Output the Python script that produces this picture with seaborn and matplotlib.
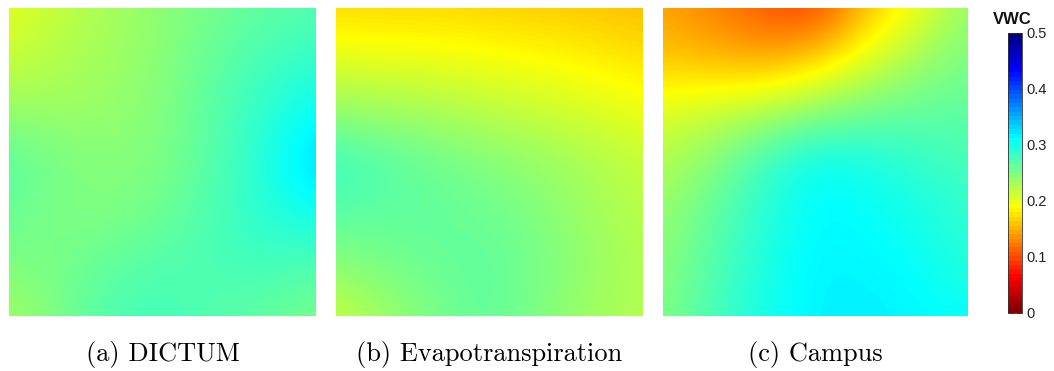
import numpy as np
import matplotlib
matplotlib.use("Agg")
import matplotlib.pyplot as plt
from matplotlib.colors import ListedColormap
import seaborn as sns

# ---- data (VWC, 7x7 sample points, edges included, top row first) ----
dictum_vwc = [
    [0.200, 0.218, 0.231, 0.244, 0.256, 0.266, 0.271],
    [0.215, 0.226, 0.234, 0.246, 0.264, 0.279, 0.288],
    [0.239, 0.236, 0.239, 0.249, 0.269, 0.290, 0.310],
    [0.269, 0.254, 0.246, 0.251, 0.271, 0.295, 0.335],
    [0.261, 0.251, 0.249, 0.259, 0.276, 0.293, 0.305],
    [0.251, 0.254, 0.266, 0.273, 0.276, 0.280, 0.273],
    [0.231, 0.254, 0.276, 0.280, 0.271, 0.264, 0.254],
]
evapo_vwc = [
    [0.168, 0.168, 0.168, 0.165, 0.163, 0.160, 0.155],
    [0.203, 0.200, 0.198, 0.193, 0.188, 0.182, 0.175],
    [0.239, 0.234, 0.229, 0.221, 0.214, 0.207, 0.195],
    [0.286, 0.271, 0.259, 0.249, 0.239, 0.229, 0.217],
    [0.269, 0.266, 0.264, 0.259, 0.249, 0.234, 0.221],
    [0.244, 0.254, 0.261, 0.266, 0.254, 0.239, 0.226],
    [0.214, 0.236, 0.254, 0.266, 0.249, 0.234, 0.224],
]
campus_vwc = [
    [0.143, 0.126, 0.105, 0.090, 0.156, 0.195, 0.241],
    [0.160, 0.153, 0.146, 0.165, 0.203, 0.234, 0.254],
    [0.205, 0.214, 0.226, 0.244, 0.256, 0.264, 0.266],
    [0.224, 0.249, 0.283, 0.310, 0.303, 0.288, 0.278],
    [0.239, 0.266, 0.293, 0.315, 0.310, 0.303, 0.288],
    [0.244, 0.273, 0.298, 0.318, 0.315, 0.310, 0.293],
    [0.249, 0.278, 0.303, 0.318, 0.320, 0.315, 0.310],
]
captions = ["(a) DICTUM", "(b) Evapotranspiration", "(c) Campus"]
cbar_ticks = [0, 0.1, 0.2, 0.3, 0.4, 0.5]
cbar_ticklabels = ["0", "0.1", "0.2", "0.3", "0.4", "0.5"]
cbar_title = "VWC"
vmin, vmax = 0.0, 0.5


def matlab_jet_r(n):
    t = np.linspace(0, 1, n)
    r = np.clip(1.5 - np.abs(4 * t - 3), 0, 1)
    g = np.clip(1.5 - np.abs(4 * t - 2), 0, 1)
    b = np.clip(1.5 - np.abs(4 * t - 1), 0, 1)
    return ListedColormap(np.column_stack([r, g, b])[::-1])


sns.set_theme(style="white")
plt.rcParams["font.family"] = ["Liberation Sans", "DejaVu Sans"]

fig = plt.figure(figsize=(10.54, 3.71), dpi=100)

H = 1054.0
V = 371.0
panel_px = [(9, 316), (336, 643), (663, 968)]
top_px, bot_px = 8, 316
cax = fig.add_axes([1008 / H, (V - 313) / V, 14 / H, 280 / V])

cmap64 = matlab_jet_r(64)
cmap_smooth = matlab_jet_r(256)

cb = None
for i, (grid, cap, (x0, x1)) in enumerate(zip([dictum_vwc, evapo_vwc, campus_vwc], captions, panel_px)):
    ax = fig.add_axes([x0 / H, (V - bot_px) / V, (x1 - x0) / H, (bot_px - top_px) / V])
    data = np.array(grid)
    nr, nc = data.shape
    sns.heatmap(data, ax=ax, cmap=cmap64, vmin=vmin, vmax=vmax,
                cbar=(i == 2), cbar_ax=(cax if i == 2 else None),
                xticklabels=False, yticklabels=False)
    ax.imshow(data, cmap=cmap_smooth, vmin=vmin, vmax=vmax, interpolation="bicubic",
              extent=(0, nc, nr, 0), aspect="auto", zorder=3)
    ax.set_xlim(0.5, nc - 0.5)
    ax.set_ylim(nr - 0.5, 0.5)
    for s in ax.spines.values():
        s.set_visible(False)
    ax.set_xticks([])
    ax.set_yticks([])
    fig.text((x0 + x1) / 2 / H, (V - 354) / V, cap, family="cmr10", fontsize=19,
             ha="center", va="center", color="black")
    if i == 2:
        cb = ax.collections[0].colorbar

cb.set_ticks(cbar_ticks)
cb.set_ticklabels(cbar_ticklabels)
cb.outline.set_visible(True)
cb.outline.set_linewidth(0.6)
cb.outline.set_edgecolor("#333333")
cax.tick_params(axis="y", direction="in", length=3.5, width=0.6, color="#333333",
                left=True, right=True, labelleft=False, labelright=True,
                labelsize=10.5, pad=3, labelcolor="#222222")
fig.text(1012.5 / H, (V - 20) / V, cbar_title, fontsize=12, fontweight="bold",
         ha="center", va="center", color="#111111")

fig.savefig("out.png", dpi=100, facecolor="white")
